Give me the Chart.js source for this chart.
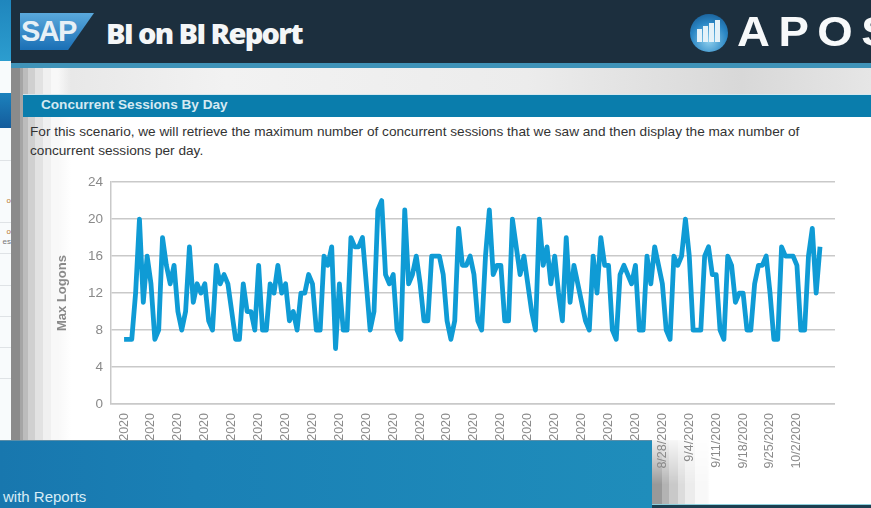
<!DOCTYPE html>
<html>
<head>
<meta charset="utf-8">
<title>Concurrent Sessions By Day</title>
<script src="https://cdn.jsdelivr.net/npm/chart.js@4/dist/chart.umd.min.js"></script>
<style>
html, body { margin: 0; padding: 0; width: 871px; height: 508px; overflow: hidden; background: #fff; font-family: "Liberation Sans", Arial, sans-serif; }
div { position: absolute; }
#sideTop { left: 0; top: 0; width: 11px; height: 61px; background: linear-gradient(#1f86bd, #2c9dcf); }
#sideBar { left: 0; top: 93px; width: 11px; height: 35px; background: linear-gradient(#1c82bd, #145c9c); }
.sideLine { left: 0; width: 11px; height: 1px; background: #dfe3e6; }
.sideText { left: 0; width: 11px; overflow: hidden; font-size: 8px; line-height: 9px; color: #777; white-space: nowrap; direction: rtl; }
#side { left: 0; top: 61px; width: 11px; height: 380px; background: #f8fbfc; }
#header { left: 11px; top: 0; width: 860px; height: 63px; background: #1c2f3e; }
#headerLine { left: 11px; top: 63px; width: 860px; height: 5px; background: #3f93b8; }
#sapLogo { left: 20px; top: 13px; width: 74px; height: 37px; background: linear-gradient(#5aa9dc, #1a6fb5); clip-path: polygon(0 0, 100% 0, 65% 100%, 0 100%); }
#sapText { left: 21px; top: 15px; font: bold 29px "Liberation Sans", Arial, sans-serif; letter-spacing: -1.6px; color: #e6f0f6; }
#reportTitle { left: 106px; top: 13px; font: 800 29px "Open Sans", sans-serif; letter-spacing: -1.7px; color: #f4f6f7; white-space: nowrap; }
#aposBall { left: 690px; top: 14px; width: 38px; height: 38px; border-radius: 50%; background: radial-gradient(circle at 50% 70%, #8fd0ee, #2a86c4 55%, #134f86); }
.aposBar { width: 5px; bottom: 10px; background: #e4f2f9; }
#aposText { left: 737px; top: 7px; font: bold 43px "Liberation Sans", Arial, sans-serif; letter-spacing: 8px; color: #f7f9fa; white-space: nowrap; transform: scaleX(1.06); transform-origin: left; }
#band { left: 11px; top: 68px; width: 860px; height: 26px; background: linear-gradient(90deg, #e4e4e4 0%, #f2f2f2 25%, #ececec 60%, #d8d8d8 85%, #e6e6e6 100%); }
#shadowLeft { left: 11px; top: 68px; width: 60px; height: 372px; background: linear-gradient(90deg, #8b8b8b 0 9px, #a5a5a5 9px 12px, #bcbcbc 12px 17px, #d0d0d0 17px 24px, #e2e2e2 24px 32px, #f0f0f0 32px 40px, #f8f8f8 40px 47px, rgba(255,255,255,0) 60px); }
#tealBar { left: 23px; top: 94px; width: 848px; height: 23px; background: #0a7dac; border-top: 1px solid #d5e7ee; box-sizing: border-box; }
#tealText { left: 41px; top: 97px; font: bold 13.6px "Liberation Sans", Arial, sans-serif; color: #d5e9f2; white-space: nowrap; }
#bodyText { left: 30px; top: 122px; width: 810px; font: 13.64px/19px "Liberation Sans", Arial, sans-serif; color: #333; }
#chartBox { left: 40px; top: 166px; width: 795px; height: 320px; }
#footBlue { left: 0; top: 440px; width: 652px; height: 68px; background: linear-gradient(90deg, #1877ae 0%, #1a80b5 30%, #1f8dbb 100%); border-top: 1px solid #5c8ea8; box-sizing: border-box; }
#footText { left: 3px; top: 488px; font: 15px "Liberation Sans", Arial, sans-serif; color: #d8edf6; white-space: nowrap; }
#shadowFoot { left: 652px; top: 440px; width: 58px; height: 64px; background: linear-gradient(90deg, #999 0 10px, #b3b3b3 10px 17px, #c9c9c9 17px 26px, #dcdcdc 26px 33px, #ececec 33px 43px, #f8f8f8 43px 55px, rgba(255,255,255,0) 58px); -webkit-mask-image: linear-gradient(rgba(0,0,0,0.15), #000 70%); mask-image: linear-gradient(rgba(0,0,0,0.15), #000 70%); }
#footDark { left: 652px; top: 504px; width: 219px; height: 4px; background: #1c3f50; border-top: 1px solid #8fd0dc; box-sizing: border-box; }
</style>
</head>
<body>
<div id="side"></div>
<div id="sideTop"></div>
<div id="sideBar"></div>
<div class="sideLine" style="top:160px"></div>
<div class="sideLine" style="top:222px"></div>
<div class="sideLine" style="top:253px"></div>
<div class="sideLine" style="top:285px"></div>
<div class="sideLine" style="top:316px"></div>
<div class="sideLine" style="top:347px"></div>
<div class="sideLine" style="top:378px"></div>
<div class="sideText" style="top:196px;color:#b9772e">o</div>
<div class="sideText" style="top:227px;color:#b9772e">o</div>
<div class="sideText" style="top:237px">es</div>
<div id="header"></div>
<div id="headerLine"></div>
<div id="sapLogo"></div>
<div id="sapText">SAP</div>
<div id="reportTitle">BI on BI Report</div>
<div id="aposBall">
  <div class="aposBar" style="left:7px;height:13px"></div>
  <div class="aposBar" style="left:13px;height:16px"></div>
  <div class="aposBar" style="left:19px;height:19px"></div>
  <div class="aposBar" style="left:25px;height:22px"></div>
</div>
<div id="aposText">APOS</div>
<div id="band"></div>
<div id="shadowLeft"></div>
<div id="tealBar"></div>
<div id="tealText">Concurrent Sessions By Day</div>
<div id="bodyText">For this scenario, we will retrieve the maximum number of concurrent sessions that we saw and then display the max number of<br>concurrent sessions per day.</div>
<div id="shadowFoot"></div>
<div id="chartBox"><canvas id="sessionsChart" width="795" height="320"></canvas></div>
<div id="footBlue"></div>
<div id="footText">with Reports</div>
<div id="footDark"></div>

<script>
// one value per day, starting 4/10/2020
const maxLogons = [
    7, 7, 7, 12, 20, 11, 16, 13, 7, 8, 18, 15, 13, 15, 10, 8, 10, 17, 11, 13,
    12, 13, 9, 8, 15, 13, 14, 13, 10, 7, 7, 13, 10, 10, 8, 15, 8, 8, 13, 12,
    15, 12, 13, 9, 10, 8, 12, 12, 14, 13, 8, 8, 16, 15, 17, 6, 13, 8, 8, 18,
    17, 17, 18, 13, 8, 10, 21, 22, 14, 13, 14, 8, 7, 21, 13, 14, 16, 13, 9, 9,
    16, 16, 16, 14, 9, 7, 9, 19, 15, 15, 16, 14, 9, 8, 16, 21, 14, 15, 15, 9,
    9, 20, 17, 14, 16, 13, 10, 8, 20, 15, 17, 13, 16, 12, 9, 18, 11, 15, 13, 11,
    9, 8, 16, 12, 18, 15, 15, 8, 7, 14, 15, 14, 13, 15, 8, 8, 16, 13, 17, 15,
    13, 8, 7, 16, 15, 16, 20, 16, 8, 8, 8, 16, 17, 14, 14, 8, 7, 16, 15, 11,
    12, 12, 8, 8, 13, 15, 15, 16, 12, 7, 7, 17, 16, 16, 16, 15, 8, 8, 16, 19,
    12, 17
];

// weekly labels on the x axis
const weekLabels = [
    '4/10/2020', '4/17/2020', '4/24/2020', '5/1/2020', '5/8/2020', '5/15/2020', '5/22/2020',
    '5/29/2020', '6/5/2020', '6/12/2020', '6/19/2020', '6/26/2020', '7/3/2020', '7/10/2020',
    '7/17/2020', '7/24/2020', '7/31/2020', '8/7/2020', '8/14/2020', '8/21/2020', '8/28/2020',
    '9/4/2020', '9/11/2020', '9/18/2020', '9/25/2020', '10/2/2020'
];

const yTicks = [0, 4, 8, 12, 16, 20, 24];
const daysPerLabel = 7;
const gridColor = '#c9c9c9';
const textColor = '#8a8a8a';

const ctx = document.getElementById('sessionsChart').getContext('2d');
new Chart(ctx, {
    type: 'line',
    data: {
        datasets: [{
            label: 'Max Logons',
            data: maxLogons.map((v, i) => ({ x: i, y: v })),
            borderColor: '#0f9bd5',
            borderWidth: 4.8,
            borderJoinStyle: 'round',
            borderCapStyle: 'butt',
            pointRadius: 0,
            tension: 0
        }]
    },
    options: {
        responsive: false,
        animation: false,
        layout: { padding: 0 },
        plugins: { legend: { display: false }, tooltip: { enabled: false } },
        scales: {
            x: {
                type: 'linear',
                min: -3.4,
                max: 184.9,
                afterFit: (scale) => { scale.height = 82; scale.paddingLeft = 0; scale.paddingRight = 0; },
                border: { color: gridColor, width: 1.5 },
                grid: { display: false },
                ticks: {
                    stepSize: daysPerLabel,
                    includeBounds: false,
                    autoSkip: false,
                    minRotation: 90,
                    maxRotation: 90,
                    padding: 1,
                    color: textColor,
                    font: { family: 'Liberation Sans', size: 12.5 },
                    callback: (val) => weekLabels[val / daysPerLabel] || ''
                }
            },
            y: {
                min: 0,
                max: 24,
                afterFit: (scale) => { scale.width = 71; },
                afterBuildTicks: (scale) => { scale.ticks = yTicks.map(v => ({ value: v })); },
                border: { color: gridColor, width: 1.5 },
                grid: { color: gridColor, lineWidth: 1.5, drawTicks: false },
                title: {
                    display: true,
                    text: 'Max Logons',
                    color: textColor,
                    font: { family: 'Liberation Sans', size: 13, weight: 'bold' },
                    padding: { top: 15, bottom: 0 }
                },
                ticks: {
                    padding: 8,
                    color: textColor,
                    font: { family: 'Liberation Sans', size: 13.5 }
                }
            }
        }
    }
});
</script>
</body>
</html>
